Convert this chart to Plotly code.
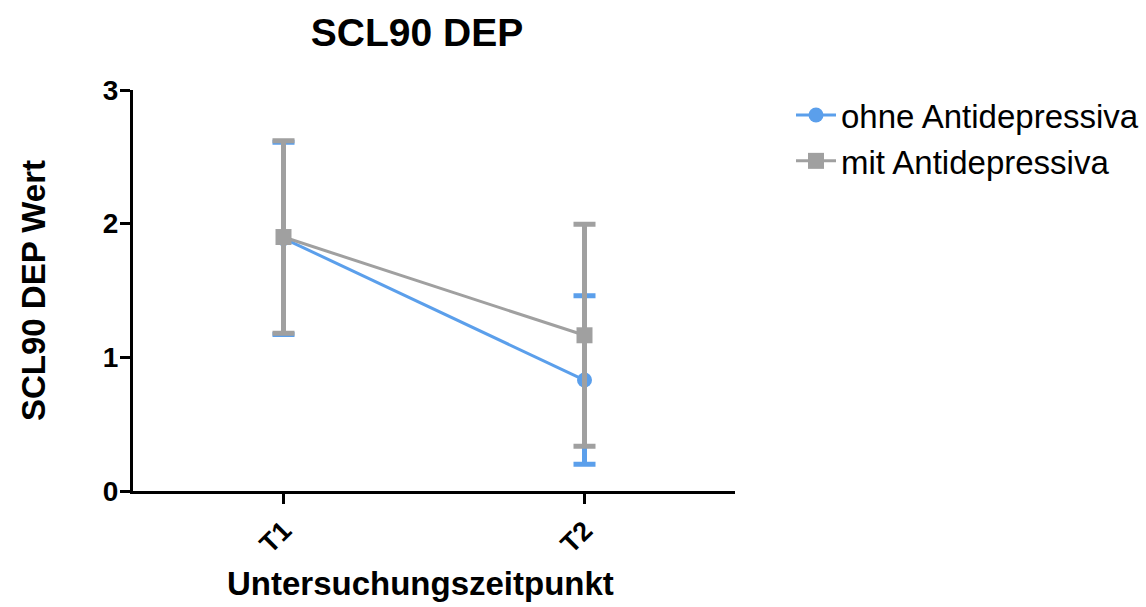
import plotly.graph_objects as go

categories = ["T1", "T2"]
ohne_mean = [1.89, 0.83]
ohne_err = [0.72, 0.63]
mit_mean = [1.90, 1.165]
mit_err = [0.72, 0.83]
y_ticks = [0, 1, 2, 3]

blue = "#5B9FEB"
gray = "#A0A0A0"
font = "Liberation Sans, Arial, sans-serif"

W, H = 1146, 607
L, R, T, B = 133, 411, 90, 116
pw, ph = W - L - R, H - T - B

fig = go.Figure()
fig.add_trace(go.Scatter(
    x=categories, y=ohne_mean, name="ohne Antidepressiva",
    mode="lines+markers",
    line=dict(color=blue, width=3),
    marker=dict(symbol="circle", size=15, color=blue),
    error_y=dict(type="data", array=ohne_err, visible=True, color=blue, thickness=5, width=11),
))
fig.add_trace(go.Scatter(
    x=categories, y=mit_mean, name="mit Antidepressiva",
    mode="lines+markers",
    line=dict(color=gray, width=3),
    marker=dict(symbol="square", size=16, color=gray),
    error_y=dict(type="data", array=mit_err, visible=True, color=gray, thickness=5, width=11),
))

fig.add_annotation(
    text="<b>Untersuchungszeitpunkt</b>", xref="paper", yref="paper",
    x=(420 - L) / pw, y=(H - B - 583) / ph, xanchor="center", yanchor="middle",
    showarrow=False, font=dict(size=33, family=font, color="black"),
)

fig.update_layout(
    width=W, height=H,
    margin=dict(l=L, r=R, t=T, b=B),
    paper_bgcolor="white", plot_bgcolor="white",
    font=dict(family=font, color="black"),
    title=dict(text="<b>SCL90 DEP</b>", x=417/W, xanchor="center", y=1-32/H, yanchor="middle",
               font=dict(size=39, family=font, color="black")),
    showlegend=True,
    legend=dict(xref="container", yref="container", x=791/W, y=1-87/H, xanchor="left", yanchor="top",
                font=dict(size=33, family=font, color="black"),
                tracegroupgap=0, itemwidth=40, bgcolor="rgba(0,0,0,0)"),
    xaxis=dict(type="category", range=[-0.5, 1.5], showgrid=False, zeroline=False,
               showline=True, linecolor="black", linewidth=3,
               ticks="outside", ticklen=10, tickwidth=3, tickcolor="black",
               tickangle=-45, tickfont=dict(size=27, family=font, color="black"),
               ticktext=["<b>%s</b>" % c for c in categories], tickvals=categories),
    yaxis=dict(range=[0, 3], tickvals=y_ticks, ticktext=["<b>%d</b>" % v for v in y_ticks],
               showgrid=False, zeroline=False,
               showline=True, linecolor="black", linewidth=3,
               ticks="outside", ticklen=10, tickwidth=3, tickcolor="black",
               ticklabelstandoff=-4,
               tickfont=dict(size=28, family=font, color="black"),
               title=dict(text="<b>SCL90 DEP Wert</b>", font=dict(size=33, family=font, color="black"), standoff=48)),
)

fig.write_html("out.html", post_script="document.body.style.margin='0';",
               config={"displayModeBar": False})
